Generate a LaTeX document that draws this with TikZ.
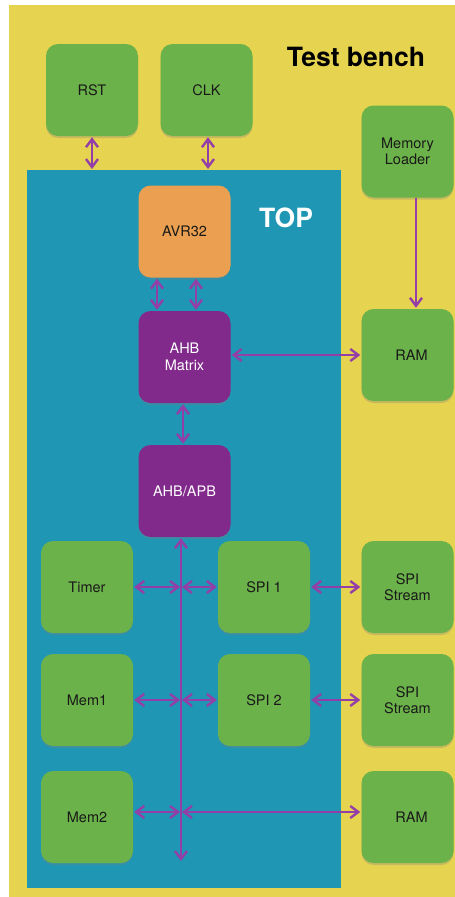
\documentclass[tikz,border=0pt]{standalone}
\usepackage{fontspec}
\setmainfont{TeX Gyre Heros}
\usetikzlibrary{arrows.meta,shadows}

\definecolor{benchyellow}{RGB}{230,211,80}
\definecolor{topblue}{RGB}{30,150,180}
\definecolor{blockgreen}{RGB}{108,178,74}
\definecolor{cpuorange}{RGB}{234,160,80}
\definecolor{buspurple}{RGB}{130,42,140}
\definecolor{linkpurple}{RGB}{148,62,168}

\tikzset{
  block/.style={rounded corners=12pt, minimum width=92pt, minimum height=92pt,
    inner sep=0pt, align=center, font=\fontsize{14.5}{16.5}\selectfont,
    text=black!90,
    drop shadow={opacity=0.3, shadow xshift=0pt, shadow yshift=-2pt}},
  tbblock/.style={block, fill=blockgreen},
  cpublock/.style={block, fill=cpuorange},
  busblock/.style={block, fill=buspurple, text=white},
  barb/.tip={Straight Barb[length=8pt,width=12pt,line width=2.4pt]},
  link/.style={draw=linkpurple, line width=2.6pt, barb-barb,
    shorten <=1pt, shorten >=1pt},
  onelink/.style={draw=linkpurple, line width=2.6pt, -barb, shorten >=1pt},
  biglabel/.style={font=\bfseries\fontsize{26.5}{30}\selectfont, inner sep=0pt},
}

\begin{document}
\begin{tikzpicture}[x=1pt, y=-1pt]
  \useasboundingbox (0,0) rectangle (455,897);
  \fill[white] (0,0) rectangle (455,897);

  % test bench and top-level areas
  \fill[benchyellow] (9,5) rectangle (455,897);
  \node[fill=topblue, minimum width=314pt, minimum height=718pt, inner sep=0pt,
        anchor=north west] (top) at (27,170) {};

  \node[biglabel, text=black] (tblabel) at (356,57) {Test bench};
  \node[biglabel, text=white] (toplabel) at (286,218) {TOP};

  % test bench blocks
  \node[tbblock] (rst) at (92,90) {RST};
  \node[tbblock] (clk) at (206.5,90) {CLK};
  \node[tbblock] (loader) at (407.5,151.5) {Memory\\Loader};
  \node[tbblock] (ram1) at (407.5,355) {\hspace*{8pt}RAM};
  \node[tbblock] (strm1) at (407.5,587) {SPI\\Stream};
  \node[tbblock] (strm2) at (407.5,700) {SPI\\Stream};
  \node[tbblock] (ram2) at (407.5,817) {\hspace*{8pt}RAM};

  % design blocks
  \node[cpublock] (avr) at (184.5,231.5) {AVR32};
  \node[busblock] (ahb) at (184.5,357) {AHB\\Matrix};
  \node[busblock] (apb) at (184.5,491) {AHB/APB};
  \node[tbblock] (timer) at (87,587) {Timer};
  \node[tbblock] (spi1) at (264,587) {SPI 1};
  \node[tbblock] (mem1) at (87,700) {Mem1};
  \node[tbblock] (spi2) at (264,700) {SPI 2};
  \node[tbblock] (mem2) at (87,817) {Mem2};

  % APB bus spine
  \coordinate (busend) at (181,862);

  % connections
  \draw[link] (rst.south) -- (rst.south |- top.north);
  \draw[link] ([xshift=1.5pt]clk.south) -- ([xshift=1.5pt]clk.south |- top.north);
  \draw[link] ([xshift=-27.5pt]avr.south) -- ([xshift=-27.5pt]ahb.north);
  \draw[link] ([xshift=11.5pt]avr.south) -- ([xshift=11.5pt]ahb.north);
  \draw[onelink] ([xshift=8.5pt]loader.south) -- ([xshift=8.5pt]ram1.north);
  \draw[link] (ahb.east |- ram1.west) -- (ram1.west);
  \draw[link] ([xshift=-1.5pt]ahb.south) -- ([xshift=-1.5pt]apb.north);
  \draw[link] (apb.south -| busend) -- (busend);

  \draw[link] (timer.east) -- (timer.east -| busend);
  \draw[link] (timer.east -| busend) -- (spi1.west);
  \draw[link] (spi1.east) -- (strm1.west);

  \draw[link] (mem1.east) -- (mem1.east -| busend);
  \draw[link] (mem1.east -| busend) -- (spi2.west);
  \draw[link] (spi2.east) -- (strm2.west);

  \draw[link] ([yshift=5pt]mem2.east) -- ([yshift=5pt]mem2.east -| busend);
  \draw[link] ([yshift=5pt]mem2.east -| busend) -- ([yshift=5pt]ram2.west);
\end{tikzpicture}
\end{document}
